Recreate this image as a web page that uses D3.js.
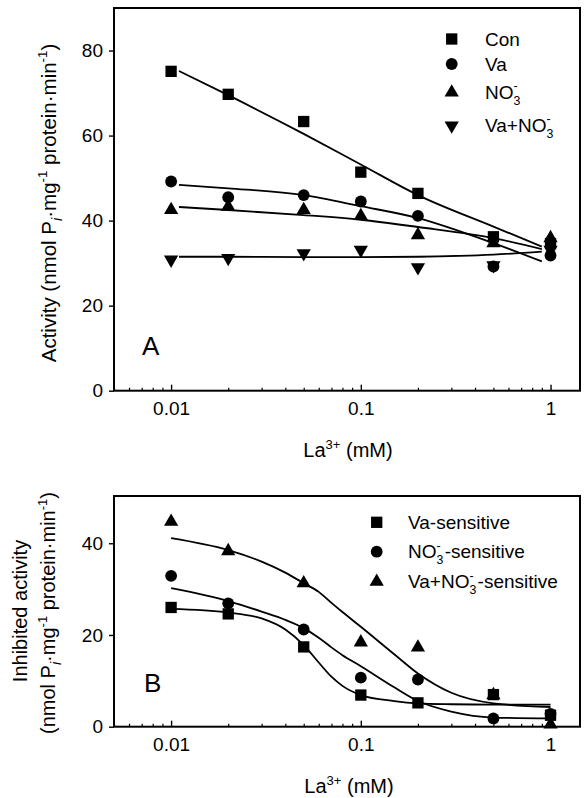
<!DOCTYPE html>
<html><head><meta charset="utf-8">
<script src="https://cdn.jsdelivr.net/npm/d3@7"></script>
<style>
body{margin:0;background:#fff}
svg{display:block}
text{font-family:Arial,"Liberation Sans",Helvetica,sans-serif;fill:#000}
</style>
</head><body>
<svg id="chart" width="584" height="798"></svg>
<script>
// ---------- data ----------
const conc = [0.01, 0.02, 0.05, 0.1, 0.2, 0.5, 1];

// Panel A: activity
const conVals   = [75.1, 69.7, 63.3, 51.4, 46.4, 36.2, 34.6];
const vaVals    = [49.2, 45.5, 46.0, 44.5, 41.1, 29.2, 31.8];
const no3Vals   = [42.5, 43.3, 42.5, 41.1, 36.6, 34.7, 35.9];
const vaNo3Vals = [30.8, 31.2, 32.3, 33.1, 29.0, 29.5, 33.1];

// Panel A: fitted curves
const fitXA     = [0.011, 0.02, 0.05, 0.1, 0.2, 0.5, 0.9];
const conFit    = [75.2, 69.5, 60.4, 53.2, 46.0, 38.6, 33.9];
const vaFit     = [48.4, 47.6, 46.0, 43.4, 40.6, 34.7, 30.4];
const no3Fit    = [43.2, 42.5, 41.3, 40.2, 38.5, 35.9, 33.3];
const vaNo3Fit  = [31.5, 31.5, 31.4, 31.4, 31.5, 32.0, 32.7];

// Panel B: inhibited activity
const vaSensVals    = [26.0, 24.6, 17.4, 6.9, 5.2, 7.0, 2.5];
const no3SensVals   = [32.9, 26.9, 21.2, 10.7, 10.3, 1.8, 2.8];
const vaNo3SensVals = [44.7, 38.3, 31.3, 18.4, 17.3, 6.9, 0.5];

// Panel B: fitted curves
const fitXB        = [0.01, 0.02, 0.03, 0.04, 0.05, 0.06, 0.07, 0.08, 0.1, 0.15, 0.2, 0.3, 0.5, 1];
const vaSensFit    = [25.7, 24.9, 23.6, 21.2, 17.8, 14.0, 10.9, 8.9, 6.9, 5.6, 5.1, 4.9, 4.8, 4.8];
const no3SensFit   = [30.2, 27.4, 25.1, 23.3, 21.5, 19.4, 17.3, 15.6, 13.2, 8.6, 5.6, 3.3, 2.0, 1.8];
const vaNo3SensFit = [41.1, 38.5, 36.0, 33.6, 31.3, 29.4, 27.0, 25.0, 21.8, 15.8, 11.6, 7.4, 5.1, 4.3];

const xTickVals = [0.01, 0.1, 1];
const xMinorVals = [0.005,0.006,0.007,0.008,0.009,0.02,0.03,0.04,0.05,0.06,0.07,0.08,0.09,0.2,0.3,0.4,0.5,0.6,0.7,0.8,0.9];
const yTicksA = [0, 20, 40, 60, 80];
const yTicksB = [0, 20, 40];

// ---------- drawing ----------
const svg = d3.select("#chart");
const FONT = 'Arial,"Liberation Sans",Helvetica,sans-serif';

function rich(sel, parts, fs) {
  let cur = 0;
  parts.forEach(([txt, kind, extraDx]) => {
    let target = 0, size = fs, dx = 0, italic = false;
    if (kind === "sub") { target = 0.32 * fs; size = 0.65 * fs; }
    else if (kind === "subi") { target = 0.3 * fs; size = 0.72 * fs; italic = true; }
    else if (kind === "sup") { target = -0.42 * fs; size = 0.65 * fs; }
    else if (kind === "supstack") { target = -0.45 * fs; size = 0.65 * fs; dx = -0.556 * 0.65 * fs; }
    const ts = sel.append("tspan").text(txt).attr("font-size", size).attr("dy", target - cur);
    if (dx || extraDx) ts.attr("dx", (dx || 0) + (extraDx || 0));
    if (italic) ts.attr("font-style", "italic");
    cur = target;
  });
}

const symSq = d3.symbol().type(d3.symbolSquare).size(128);
const symCi = d3.symbol().type(d3.symbolCircle).size(110);
const symTr = d3.symbol().type(d3.symbolTriangle).size(88);

function marker(g, kind, x, y) {
  if (kind === "square") g.append("path").attr("d", symSq()).attr("transform", `translate(${x},${y})`);
  else if (kind === "circle") g.append("path").attr("d", symCi()).attr("transform", `translate(${x},${y})`);
  else if (kind === "up") g.append("path").attr("d", symTr()).attr("transform", `translate(${x},${y})`);
  else if (kind === "down") g.append("path").attr("d", symTr()).attr("transform", `translate(${x},${y}) rotate(180)`);
}

function panel(cfg) {
  const x = d3.scaleLog().domain([0.005, 1.43]).range([cfg.left, cfg.right]);
  const y = d3.scaleLinear().domain(cfg.yDomain).range([cfg.bottom, cfg.yTopVal]);
  const g = svg.append("g");

  const xa = g.append("g").attr("transform", `translate(0,${cfg.bottom})`)
    .call(d3.axisBottom(x).tickValues(xTickVals).tickFormat(d => d3.format("")(d)).tickSize(-6).tickPadding(11));
  xa.select(".domain").remove();
  xa.selectAll("line").attr("stroke", "#000").attr("stroke-width", 1.4);
  xa.selectAll("text").attr("font-size", 19).attr("font-family", FONT).attr("fill", "#000");
  const xm = g.append("g").attr("transform", `translate(0,${cfg.bottom})`)
    .call(d3.axisBottom(x).tickValues(xMinorVals).tickFormat("").tickSize(-3));
  xm.select(".domain").remove();
  xm.selectAll("line").attr("stroke", "#000").attr("stroke-width", 1.2);

  const ya = g.append("g").attr("transform", `translate(${cfg.left},0)`)
    .call(d3.axisLeft(y).tickValues(cfg.yTicks).tickSize(5).tickPadding(6));
  ya.select(".domain").remove();
  ya.selectAll("line").attr("stroke", "#000").attr("stroke-width", 1.4);
  ya.selectAll("text").attr("font-size", 19).attr("font-family", FONT).attr("fill", "#000");

  g.append("rect").attr("x", cfg.left).attr("y", cfg.top)
    .attr("width", cfg.right - cfg.left).attr("height", cfg.bottom - cfg.top)
    .attr("fill", "none").attr("stroke", "#000").attr("stroke-width", 2);

  const line = d3.line().x(d => x(d[0])).y(d => y(d[1])).curve(d3.curveMonotoneX);
  cfg.fits.forEach(f => {
    g.append("path").attr("d", line(f.xs.map((v, i) => [v, f.ys[i]])))
      .attr("fill", "none").attr("stroke", "#000").attr("stroke-width", 1.8);
  });

  cfg.series.forEach(s => {
    s.vals.forEach((v, i) => marker(g, s.kind, x(conc[i]), y(v)));
  });

  g.append("text").attr("x", cfg.letterX).attr("y", cfg.letterY)
    .attr("font-size", 26).text(cfg.letter);

  const xt = g.append("text").attr("x", cfg.xTitleX).attr("y", cfg.xTitleY)
    .attr("text-anchor", "middle").attr("font-size", 20);
  rich(xt, [["La", ""], ["3+", "sup"], [" (mM)", ""]], 20);
  return g;
}

const gA = panel({
  left: 114, right: 580, top: 8, bottom: 390.7, yDomain: [0, 90], yTopVal: 8,
  yTicks: yTicksA, letter: "A", letterX: 142, letterY: 355, xTitleX: 348, xTitleY: 457,
  fits: [
    { xs: fitXA, ys: conFit }, { xs: fitXA, ys: vaFit },
    { xs: fitXA, ys: no3Fit }, { xs: fitXA, ys: vaNo3Fit }
  ],
  series: [
    { vals: vaNo3Vals, kind: "down" }, { vals: vaVals, kind: "circle" },
    { vals: conVals, kind: "square" }, { vals: no3Vals, kind: "up" }
  ]
});

const gB = panel({
  left: 114, right: 580, top: 496, bottom: 726.7, yDomain: [0, 50], yTopVal: 497.4,
  yTicks: yTicksB, letter: "B", letterX: 144, letterY: 692, xTitleX: 349, xTitleY: 793,
  fits: [
    { xs: fitXB, ys: vaSensFit }, { xs: fitXB, ys: no3SensFit }, { xs: fitXB, ys: vaNo3SensFit }
  ],
  series: [
    { vals: vaSensVals, kind: "square" }, { vals: no3SensVals, kind: "circle" },
    { vals: vaNo3SensVals, kind: "up" }
  ]
});

// Legend A
const legAKinds = ["square", "circle", "up", "down"];
const legAY = [39, 64, 92.5, 125.5];
const legAParts = [
  [["Con", ""]],
  [["Va", ""]],
  [["NO", ""], ["3", "sub"], ["-", "supstack"]],
  [["Va+NO", ""], ["3", "sub"], ["-", "supstack"]]
];
legAParts.forEach((p, i) => {
  marker(gA, legAKinds[i], 451.7, legAY[i]);
  const t = gA.append("text").attr("x", 485).attr("y", legAY[i] + 6.5).attr("font-size", 19);
  rich(t, p, 19);
});

// Legend B
const legBKinds = ["square", "circle", "up"];
const legBY = [522.3, 551.7, 581.7];
const legBParts = [
  [["Va-sensitive", ""]],
  [["NO", ""], ["3", "sub"], ["-", "supstack"], ["-sensitive", "", 4]],
  [["Va+NO", ""], ["3", "sub"], ["-", "supstack"], ["-sensitive", "", 4]]
];
legBParts.forEach((p, i) => {
  marker(gB, legBKinds[i], 376.7, legBY[i]);
  const t = gB.append("text").attr("x", 408).attr("y", legBY[i] + 6.5).attr("font-size", 19);
  rich(t, p, 19);
});

// Y axis titles
const ytA = svg.append("text").attr("transform", "translate(56,203) rotate(-90)")
  .attr("text-anchor", "middle").attr("font-size", 20.5);
rich(ytA, [["Activity (nmol P", ""], ["i", "subi"], ["·mg", ""], ["-1", "sup"], ["  protein·min", ""], ["-1", "sup"], [")", ""]], 20.5);

svg.append("text").attr("transform", "translate(27,611) rotate(-90)")
  .attr("text-anchor", "middle").attr("font-size", 20).text("Inhibited activity");
const ytB2 = svg.append("text").attr("transform", "translate(55,613) rotate(-90)")
  .attr("text-anchor", "middle").attr("font-size", 20);
rich(ytB2, [["(nmol P", ""], ["i", "subi"], ["·mg", ""], ["-1", "sup"], ["  protein·min", ""], ["-1", "sup"], [")", ""]], 20);
</script>
</body></html>
